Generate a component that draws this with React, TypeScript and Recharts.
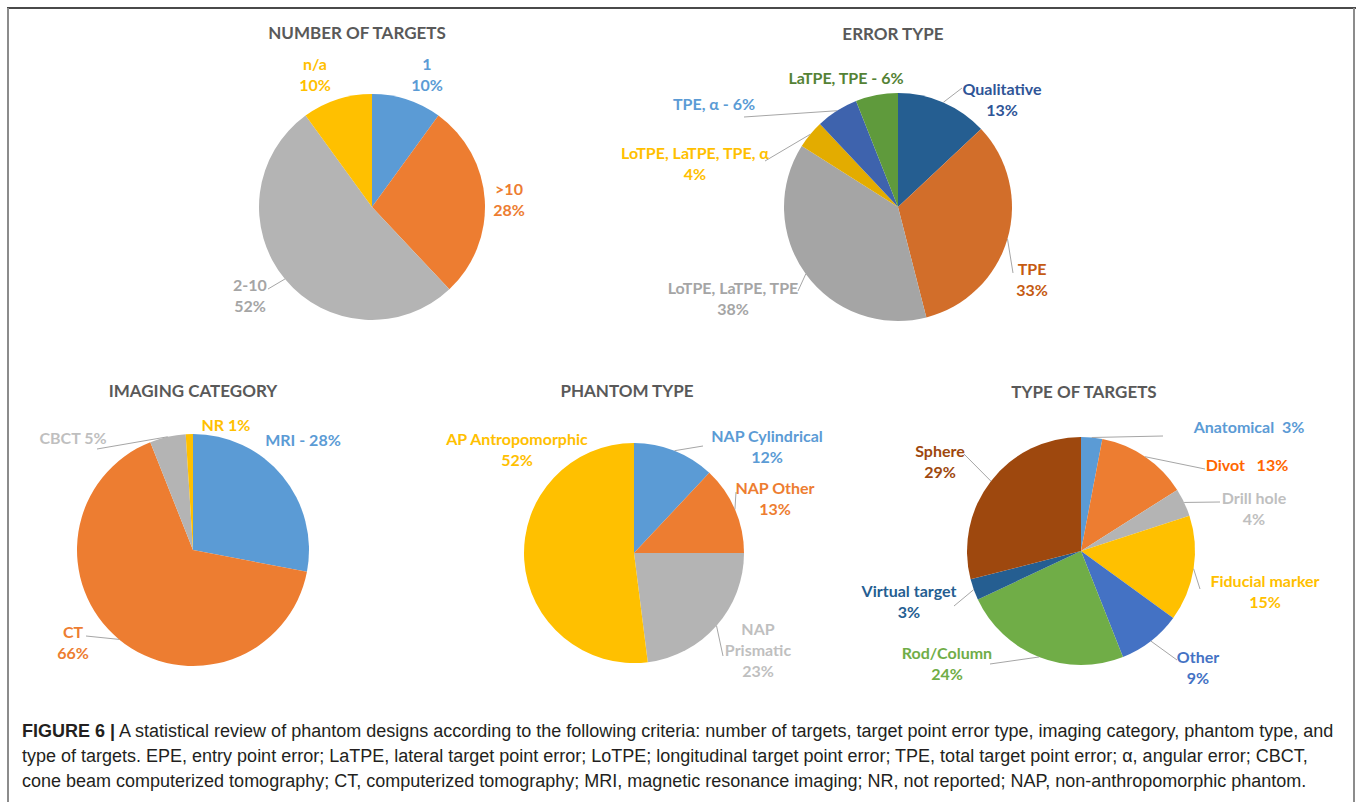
import React from 'react';
import { PieChart, Pie, Cell } from 'recharts';

const RADIAN = Math.PI / 180;

// ---------------- DATA ----------------
const targetCountNames = ['1', '>10', '2-10', 'n/a'];
const targetCountValues = [10, 28, 52, 10];

const errorTypeNames = ['Qualitative', 'TPE', 'LoTPE, LaTPE, TPE', 'LoTPE, LaTPE, TPE, α', 'TPE, α', 'LaTPE, TPE'];
const errorTypeValues = [13, 33, 38, 4, 6, 6];

const imagingNames = ['MRI', 'CT', 'CBCT', 'NR'];
const imagingValues = [28, 66, 5, 1];

const phantomNames = ['NAP Cylindrical', 'NAP Other', 'NAP Prismatic', 'AP Antropomorphic'];
const phantomValues = [12, 13, 23, 52];

const targetTypeNames = ['Anatomical', 'Divot', 'Drill hole', 'Fiducial marker', 'Other', 'Rod/Column', 'Virtual target', 'Sphere'];
const targetTypeValues = [3, 13, 4, 15, 9, 24, 3, 29];

const chartTitles = ['NUMBER OF TARGETS', 'ERROR TYPE', 'IMAGING CATEGORY', 'PHANTOM TYPE', 'TYPE OF TARGETS'];

const captionBold = 'FIGURE 6 |';
const captionLines = [
  ' A statistical review of phantom designs according to the following criteria: number of targets, target point error type, imaging category, phantom type, and',
  'type of targets. EPE, entry point error; LaTPE, lateral target point error; LoTPE; longitudinal target point error; TPE, total target point error; α, angular error; CBCT,',
  'cone beam computerized tomography; CT, computerized tomography; MRI, magnetic resonance imaging; NR, not reported; NAP, non-anthropomorphic phantom.',
];

// ---------------- STYLE / LAYOUT ----------------
type LabelLayout = { dx: number; dy: number; sep: string; wrap?: boolean; line?: [number, number] };

const pies = [
  {
    names: targetCountNames,
    values: targetCountValues,
    cx: 372, cy: 207, r: 113,
    title: { x: 357, y: 33 },
    fills: ['#5B9BD5', '#ED7D31', '#B4B4B4', '#FFC000'],
    labelColors: ['#5B9BD5', '#ED7D31', '#A5A5A5', '#FFC000'],
    labels: [
      { dx: 55, dy: -144, sep: '\n' },
      { dx: 137, dy: -19, sep: '\n' },
      { dx: -122, dy: 77, sep: '\n', line: [-104, 82] },
      { dx: -57, dy: -144, sep: '\n' },
    ] as LabelLayout[],
  },
  {
    names: errorTypeNames,
    values: errorTypeValues,
    cx: 898, cy: 207, r: 114,
    title: { x: 893, y: 34 },
    fills: ['#255E91', '#D26E2A', '#A5A5A5', '#E3AC00', '#3E63AD', '#5F9A3C'],
    labelColors: ['#2F5597', '#C55A11', '#A5A5A5', '#FFC000', '#5B9BD5', '#548235'],
    labels: [
      { dx: 104, dy: -119, sep: '\n', line: [64, -119] },
      { dx: 134, dy: 61, sep: '\n', line: [115, 66] },
      { dx: -165, dy: 80, sep: '\n', line: [-100, 84] },
      { dx: -203, dy: -55, sep: '\n', line: [-133, -46] },
      { dx: -184, dy: -104, sep: ' - ', line: [-154, -90] },
      { dx: -52, dy: -130, sep: ' - ' },
    ] as LabelLayout[],
  },
  {
    names: imagingNames,
    values: imagingValues,
    cx: 193, cy: 550, r: 116,
    title: { x: 193, y: 391 },
    fills: ['#5B9BD5', '#ED7D31', '#B4B4B4', '#FFC000'],
    labelColors: ['#5B9BD5', '#ED7D31', '#BFBFBF', '#FFC000'],
    labels: [
      { dx: 110, dy: -111, sep: ' - ' },
      { dx: -120, dy: 81, sep: '\n', line: [-107, 86] },
      { dx: -120, dy: -113, sep: ' ', line: [-96, -101] },
      { dx: 33, dy: -126, sep: ' ' },
    ] as LabelLayout[],
  },
  {
    names: phantomNames,
    values: phantomValues,
    cx: 634, cy: 553, r: 110,
    title: { x: 627, y: 391 },
    fills: ['#5B9BD5', '#ED7D31', '#B4B4B4', '#FFC000'],
    labelColors: ['#5B9BD5', '#ED7D31', '#BFBFBF', '#FFC000'],
    labels: [
      { dx: 133, dy: -118, sep: '\n', line: [69, -107] },
      { dx: 141, dy: -66, sep: '\n', line: [102, -61] },
      { dx: 124, dy: 75, sep: '\n', wrap: true, line: [89, 103] },
      { dx: -117, dy: -115, sep: '\n' },
    ] as LabelLayout[],
  },
  {
    names: targetTypeNames,
    values: targetTypeValues,
    cx: 1081, cy: 551, r: 114,
    title: { x: 1084, y: 392 },
    fills: ['#5B9BD5', '#ED7D31', '#B4B4B4', '#FFC000', '#4472C4', '#70AD47', '#255E91', '#9E480E'],
    labelColors: ['#5B9BD5', '#FF6600', '#BFBFBF', '#FFC000', '#4472C4', '#70AD47', '#255E91', '#9E480E'],
    labels: [
      { dx: 168, dy: -125, sep: '  ', line: [82, -115] },
      { dx: 166, dy: -87, sep: '   ', line: [124, -82] },
      { dx: 173, dy: -54, sep: '\n', line: [139, -49] },
      { dx: 184, dy: 29, sep: '\n', line: [119, 38] },
      { dx: 117, dy: 105, sep: '\n', line: [96, 109] },
      { dx: -134, dy: 101, sep: '\n', line: [-91, 113] },
      { dx: -172, dy: 39, sep: '\n', line: [-127, 55] },
      { dx: -141, dy: -101, sep: '\n', line: [-117, -97] },
    ] as LabelLayout[],
  },
];

const LABEL_FONT = 'Lato, "Open Sans", sans-serif';

function makeLabel(cfg: (typeof pies)[number]) {
  return (props: any) => {
    const { cx, cy, midAngle, outerRadius, index } = props;
    const L = cfg.labels[index];
    const name = cfg.names[index];
    const pct = `${cfg.values[index]}%`;
    let lines: string[];
    if (L.sep === '\n') {
      lines = L.wrap ? [...name.split(' '), pct] : [name, pct];
    } else {
      lines = [name + L.sep + pct];
    }
    const x = cx + L.dx;
    const y = cy + L.dy;
    let leader = null;
    if (L.line) {
      const ax = cx + outerRadius * Math.cos(-midAngle * RADIAN);
      const ay = cy + outerRadius * Math.sin(-midAngle * RADIAN);
      leader = (
        <polyline
          points={`${ax},${ay} ${cx + L.line[0]},${cy + L.line[1]}`}
          stroke="#A6A6A6"
          strokeWidth={1}
          fill="none"
        />
      );
    }
    return (
      <g key={`lbl-${index}`}>
        {leader}
        <text
          x={x}
          y={y}
          textAnchor="middle"
          dominantBaseline="central"
          fill={cfg.labelColors[index]}
          style={{ fontFamily: LABEL_FONT, fontWeight: 700, fontSize: 16, whiteSpace: 'pre' }}
        >
          {lines.map((t, i) => (
            <tspan key={i} x={x} dy={i === 0 ? 0 : 21}>
              {t}
            </tspan>
          ))}
        </text>
      </g>
    );
  };
}

export default function App() {
  return (
    <div style={{ position: 'relative', width: 1357, height: 802, background: '#fff', overflow: 'hidden' }}>
      <style>{`body{margin:0;background:#fff}`}</style>
      {/* frame */}
      <div style={{ position: 'absolute', left: 7, top: 7, width: 1349, height: 2, background: '#4A4A4A' }} />
      <div style={{ position: 'absolute', left: 7, top: 8, width: 2, height: 794, background: '#8C8C8C' }} />
      <div style={{ position: 'absolute', left: 1353, top: 8, width: 2, height: 794, background: '#8C8C8C' }} />

      <div style={{ position: 'absolute', left: 0, top: 0 }}>
        <PieChart width={1357} height={700} margin={{ top: 0, right: 0, bottom: 0, left: 0 }}>
          {pies.map((cfg, pi) => (
            <Pie
              key={pi}
              data={cfg.names.map((n, i) => ({ name: n, value: cfg.values[i] }))}
              dataKey="value"
              nameKey="name"
              cx={cfg.cx}
              cy={cfg.cy}
              outerRadius={cfg.r}
              startAngle={90}
              endAngle={-270}
              stroke="none"
              isAnimationActive={false}
              labelLine={false}
              label={makeLabel(cfg)}
            >
              {cfg.names.map((n, i) => (
                <Cell key={n} fill={cfg.fills[i]} />
              ))}
            </Pie>
          ))}
        </PieChart>
      </div>

      {pies.map((cfg, pi) => (
        <div
          key={`t${pi}`}
          style={{
            position: 'absolute',
            left: cfg.title.x - 150,
            top: cfg.title.y - 11,
            width: 300,
            textAlign: 'center',
            fontFamily: LABEL_FONT,
            fontWeight: 700,
            fontSize: 17,
            lineHeight: '22px',
            color: '#595959',
            whiteSpace: 'nowrap',
          }}
        >
          {chartTitles[pi]}
        </div>
      ))}

      <div
        style={{
          position: 'absolute',
          left: 22,
          top: 719,
          fontFamily: '"Liberation Sans", Arial, sans-serif',
          fontSize: 18,
          lineHeight: '25px',
          color: '#231F20',
          whiteSpace: 'pre',
        }}
      >
        <div>
          <b>{captionBold}</b>
          {captionLines[0]}
        </div>
        <div>{captionLines[1]}</div>
        <div>{captionLines[2]}</div>
      </div>
    </div>
  );
}
